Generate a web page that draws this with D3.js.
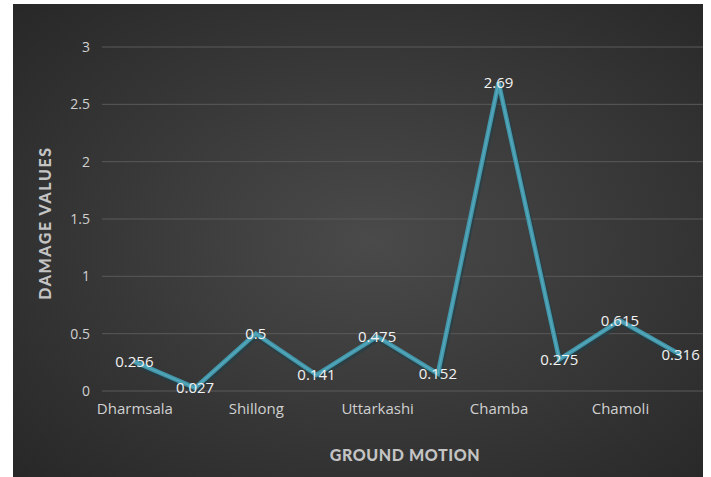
<!DOCTYPE html>
<html>
<head>
<meta charset="utf-8">
<script src="https://cdn.jsdelivr.net/npm/d3@7"></script>
<style>
  html, body { margin: 0; padding: 0; background: #ffffff; }
  svg { display: block; }
</style>
</head>
<body>
<svg id="chart" width="711" height="477"></svg>
<script>
// Damage values per ground-motion record
const categories = ["Dharmsala", "", "Shillong", "", "Uttarkashi", "", "Chamba", "", "Chamoli", ""];
const damageValues = [0.256, 0.027, 0.5, 0.141, 0.475, 0.152, 2.69, 0.275, 0.615, 0.316];
const yTicks = [0, 0.5, 1, 1.5, 2, 2.5, 3];
const yTickLabels = ["0", "0.5", "1", "1.5", "2", "2.5", "3"];

const svg = d3.select("#chart");
const font = "'Open Sans', sans-serif";
const titleFont = "Lato, 'Open Sans', sans-serif";

// Dark radial background
const defs = svg.append("defs");
const grad = defs.append("radialGradient")
  .attr("id", "bg").attr("cx", "52%").attr("cy", "50%").attr("r", "75%");
grad.append("stop").attr("offset", "0%").attr("stop-color", "#4a4a4a");
grad.append("stop").attr("offset", "100%").attr("stop-color", "#262626");

const bgL = 13, bgT = 4, bgR = 703, bgB = 477;
svg.append("rect")
  .attr("x", bgL).attr("y", bgT)
  .attr("width", bgR - bgL).attr("height", bgB - bgT)
  .attr("fill", "url(#bg)");

// Scales
const idx = d3.range(damageValues.length);
const x = d3.scalePoint().domain(idx).range([104, 711]).padding(0.5);
const y = d3.scaleLinear().domain([0, 3]).range([391, 47]);

// Gridlines
svg.append("g").selectAll("line").data(yTicks).join("line")
  .attr("x1", 102).attr("x2", bgR)
  .attr("y1", d => y(d)).attr("y2", d => y(d))
  .attr("stroke", "#5a5a5a").attr("stroke-width", 1);

// Y axis labels
const yAxis = d3.axisLeft(y).tickValues(yTicks)
  .tickFormat((d, i) => yTickLabels[i]).tickSize(0).tickPadding(0);
const gy = svg.append("g").attr("transform", "translate(90,0)").call(yAxis);
gy.select(".domain").remove();
gy.selectAll("text")
  .attr("fill", "#d0d0d0").style("font-family", font).style("font-size", "14px");

// X axis labels (every other category)
const xAxis = d3.axisBottom(x).tickFormat(i => categories[i]).tickSize(0).tickPadding(0);
const gx = svg.append("g").attr("transform", "translate(0,403)").call(xAxis);
gx.select(".domain").remove();
gx.selectAll("text")
  .attr("fill", "#d0d0d0").style("font-family", font).style("font-size", "15px");

// Axis titles
svg.append("text")
  .attr("transform", "translate(51,223) rotate(-90)")
  .attr("text-anchor", "middle")
  .attr("fill", "#c4c4c4")
  .style("font-family", titleFont)
  .style("font-weight", "900").style("font-size", "16px")
  .style("letter-spacing", "1.6px")
  .text("DAMAGE VALUES");

svg.append("text")
  .attr("x", 405).attr("y", 461)
  .attr("text-anchor", "middle")
  .attr("fill", "#c4c4c4")
  .style("font-family", titleFont)
  .style("font-weight", "900").style("font-size", "16px")
  .style("letter-spacing", "0.6px")
  .text("GROUND MOTION");

// Line
const line = d3.line().x(i => x(i)).y(i => y(damageValues[i]));
svg.append("path").datum(idx)
  .attr("d", line).attr("fill", "none")
  .attr("stroke", "#1e3f47").attr("stroke-width", 6).attr("stroke-opacity", 0.6)
  .attr("transform", "translate(1,2)");
svg.append("path").datum(idx)
  .attr("d", line).attr("fill", "none")
  .attr("stroke", "#4396aa").attr("stroke-width", 4.5)
  .attr("stroke-linejoin", "miter");
svg.append("path").datum(idx)
  .attr("d", line).attr("fill", "none")
  .attr("stroke", "#5fb4c6").attr("stroke-width", 1.5).attr("stroke-opacity", 0.6);

// Data labels centred on points
svg.append("g").selectAll("text").data(idx).join("text")
  .attr("x", i => x(i)).attr("y", i => y(damageValues[i]))
  .attr("text-anchor", "middle").attr("dy", "0.35em")
  .attr("fill", "#f2f2f2")
  .style("font-family", font).style("font-size", "15px")
  .text(i => String(damageValues[i]));
</script>
</body>
</html>
